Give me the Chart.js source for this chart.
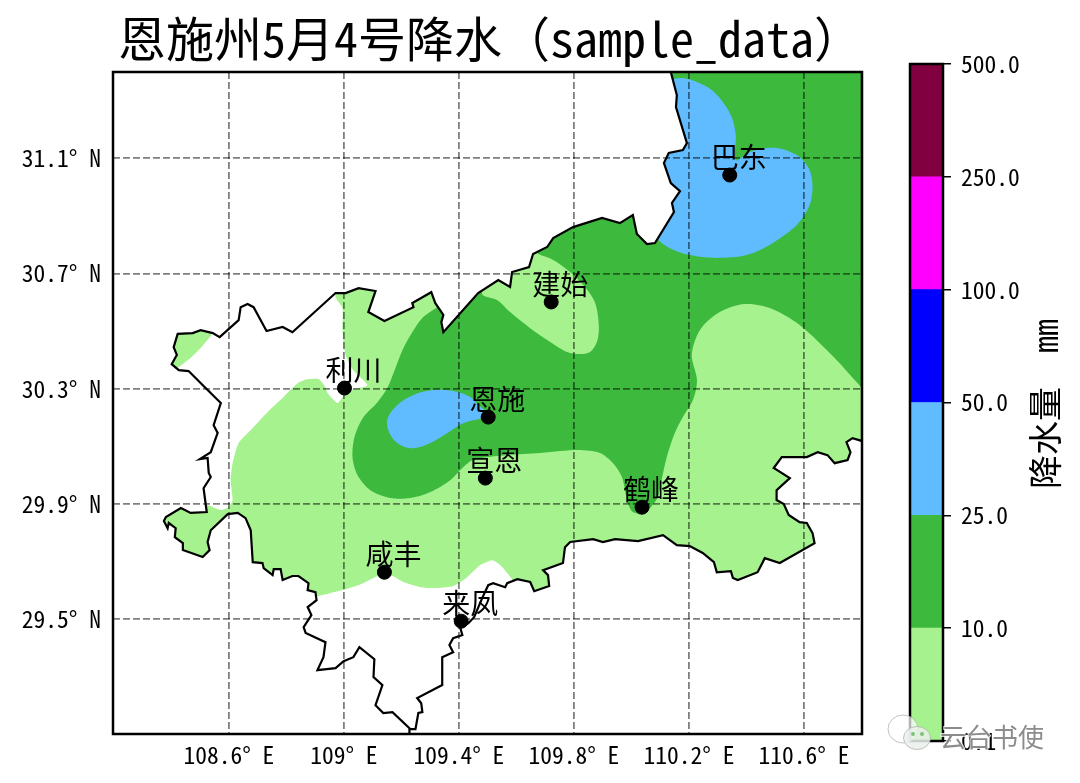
<!DOCTYPE html>
<html>
<head>
<meta charset="utf-8">
<script src="https://cdn.jsdelivr.net/npm/chart.js@4"></script>
<style>
  body { margin: 0; background: #fff; }
  canvas { position: absolute; left: 0; top: 0; }
</style>
</head>
<body>
<canvas id="mapChart" width="1080" height="783"></canvas>
<canvas id="barChart" width="1080" height="783"></canvas>
<script>
var titleText = "恩施州5月4号降水（sample_data）";
var xTickValues = [108.6, 109, 109.4, 109.8, 110.2, 110.6];
var xTickLabels = ["108.6° E", "109° E", "109.4° E", "109.8° E", "110.2° E", "110.6° E"];
var yTickValues = [29.5, 29.9, 30.3, 30.7, 31.1];
var yTickLabels = ["29.5° N", "29.9° N", "30.3° N", "30.7° N", "31.1° N"];

var stationNames = ["巴东", "建始", "利川", "恩施", "宣恩", "鹤峰", "咸丰", "来凤"];
var stationLon = [110.342, 109.721, 109.002, 109.502, 109.492, 110.037, 109.141, 109.408];
var stationLat = [31.042, 30.601, 30.302, 30.201, 29.989, 29.888, 29.662, 29.492];

// county outline
var borderLon = [110.137,110.158,110.155,110.193,110.179,110.130,110.113,110.137,110.169,110.141,110.148,110.082,110.054,110.019,110.005,109.960,109.898,109.797,109.728,109.707,109.658,109.644,109.585,109.578,109.537,109.467,109.346,109.339,109.346,109.318,109.304,109.238,109.242,109.141,109.085,109.110,109.051,109.006,108.971,108.821,108.787,108.731,108.686,108.665,108.641,108.634,108.568,108.544,108.502,108.474,108.422,108.408,108.419,108.401,108.426,108.460,108.519,108.572,108.547,108.561,108.537,108.499,108.526,108.530,108.537,108.512,108.523,108.467,108.433,108.381,108.374,108.387,108.391,108.415,108.412,108.440,108.440,108.509,108.533,108.526,108.537,108.596,108.631,108.658,108.676,108.683,108.717,108.721,108.752,108.756,108.780,108.787,108.821,108.842,108.877,108.874,108.901,108.905,108.874,108.887,108.860,108.867,108.936,108.929,108.908,108.971,108.999,109.033,109.054,109.106,109.103,109.134,109.110,109.137,109.169,109.228,109.228,109.228,109.249,109.259,109.273,109.269,109.255,109.342,109.342,109.380,109.367,109.380,109.412,109.405,109.433,109.453,109.481,109.502,109.519,109.561,109.568,109.603,109.648,109.662,109.714,109.710,109.693,109.762,109.769,109.787,109.867,109.901,109.943,110.023,110.110,110.158,110.203,110.248,110.287,110.297,110.346,110.353,110.370,110.439,110.464,110.516,110.637,110.630,110.610,110.585,110.547,110.530,110.505,110.505,110.551,110.495,110.523,110.610,110.648,110.682,110.707,110.752,110.762,110.748,110.769,110.802,110.802,110.137];
var borderLat = [31.400,31.320,31.278,31.153,31.129,31.119,31.084,31.014,30.986,30.945,30.913,30.806,30.802,30.837,30.903,30.875,30.893,30.861,30.823,30.792,30.768,30.722,30.705,30.653,30.677,30.632,30.496,30.531,30.556,30.597,30.635,30.597,30.583,30.535,30.566,30.639,30.649,30.632,30.632,30.496,30.514,30.500,30.583,30.594,30.583,30.538,30.479,30.493,30.503,30.493,30.490,30.444,30.417,30.385,30.364,30.361,30.302,30.250,30.173,30.146,30.079,30.055,30.059,30.007,29.993,29.954,29.871,29.868,29.885,29.854,29.840,29.815,29.833,29.815,29.784,29.763,29.739,29.715,29.739,29.767,29.808,29.864,29.868,29.850,29.808,29.697,29.694,29.676,29.652,29.673,29.673,29.635,29.649,29.649,29.624,29.600,29.593,29.565,29.541,29.513,29.471,29.451,29.419,29.367,29.322,29.329,29.353,29.367,29.402,29.360,29.298,29.270,29.200,29.173,29.176,29.120,29.103,29.117,29.117,29.173,29.176,29.207,29.225,29.270,29.367,29.384,29.409,29.433,29.444,29.468,29.485,29.506,29.572,29.617,29.624,29.610,29.624,29.638,29.628,29.596,29.614,29.652,29.669,29.694,29.749,29.767,29.777,29.767,29.777,29.770,29.791,29.756,29.753,29.729,29.697,29.662,29.666,29.642,29.635,29.662,29.711,29.694,29.763,29.798,29.833,29.836,29.861,29.899,29.913,29.947,29.989,30.024,30.062,30.062,30.079,30.069,30.041,30.052,30.079,30.114,30.128,30.118,31.400,31.400];

// 0.1-10 mm band, main piece
var lightLon = [109.585,109.544,109.516,109.474,109.429,109.380,109.325,109.266,109.207,109.169,109.127,109.068,109.006,108.908,108.815,108.294,108.294,108.526,108.572,108.599,108.613,108.606,108.613,108.634,108.676,108.735,108.790,108.839,108.877,108.912,108.936,108.943,108.978,109.002,109.033,109.082,109.033,109.006,108.995,108.995,108.971,108.971,110.932,110.932,109.585];
var lightLat = [29.638,29.687,29.704,29.687,29.645,29.614,29.607,29.610,29.628,29.649,29.652,29.624,29.603,29.579,29.565,29.565,29.895,29.895,29.878,29.888,29.913,29.982,30.041,30.111,30.156,30.219,30.271,30.319,30.333,30.333,30.305,30.285,30.250,30.278,30.298,30.312,30.364,30.417,30.503,30.580,30.618,30.781,31.440,29.391,29.391];
// 0.1-10 mm band, north-west corner
var cornerLon = [108.540,108.502,108.467,108.426,108.363,108.328,108.502];
var cornerLat = [30.486,30.441,30.406,30.375,30.347,30.503,30.538];
// 0.1-10 mm band around Jianshi
var jianshiLon = [109.676,109.728,109.787,109.839,109.874,109.887,109.880,109.856,109.821,109.776,109.707,109.648,109.578,109.533,109.481,109.509,109.648];
var jianshiLat = [30.768,30.747,30.705,30.653,30.597,30.514,30.462,30.427,30.420,30.427,30.469,30.510,30.566,30.608,30.629,30.712,30.816];
// 10-25 mm band
var midLon = [109.325,109.276,109.242,109.207,109.179,109.151,109.117,109.068,109.037,109.030,109.047,109.092,109.162,109.231,109.301,109.370,109.412,109.450,109.568,109.683,109.752,109.832,109.891,109.936,109.967,109.985,110.002,110.037,110.065,110.092,110.110,110.127,110.151,110.179,110.214,110.228,110.210,110.238,110.307,110.394,110.481,110.585,110.707,110.802,110.932,110.932,110.030,109.440,109.370];
var midLat = [30.583,30.549,30.503,30.441,30.371,30.302,30.253,30.201,30.132,30.062,30.000,29.947,29.920,29.920,29.941,29.982,30.024,30.052,30.069,30.076,30.083,30.086,30.076,30.041,29.993,29.913,29.874,29.864,29.885,29.923,30.007,30.076,30.146,30.201,30.260,30.330,30.417,30.503,30.566,30.594,30.580,30.521,30.406,30.302,30.173,31.511,31.511,30.955,30.608];
// 25-50 mm band around Enshi
var enshiLon = [109.499,109.467,109.440,109.380,109.311,109.242,109.186,109.151,109.162,109.196,109.242,109.301,109.360,109.415,109.485];
var enshiLat = [30.219,30.243,30.271,30.292,30.295,30.278,30.243,30.191,30.139,30.104,30.093,30.111,30.146,30.180,30.198];
// 25-50 mm band around Badong
var badongLon = [110.144,110.179,110.228,110.280,110.318,110.349,110.363,110.363,110.412,110.471,110.526,110.585,110.620,110.630,110.620,110.575,110.492,110.401,110.297,110.203,110.134,110.089,110.030,110.030,110.065];
var badongLat = [31.376,31.379,31.365,31.337,31.296,31.244,31.181,31.094,31.122,31.136,31.132,31.105,31.059,31.000,30.938,30.868,30.806,30.764,30.754,30.764,30.788,30.823,30.955,31.303,31.372];

var barLabels = ["0.1", "10.0", "25.0", "50.0", "100.0", "250.0", "500.0"];
var barColors = ["#A6F28F", "#3DBA3D", "#61BBFF", "#0000FF", "#FF00FF", "#800040"];
var barTitle = "降水量  mm";
var watermark = "云台书使";

var monoFont = '"Noto Sans Mono CJK SC", "Liberation Mono", "Noto Sans CJK SC"';
var cjkFont = '"Noto Sans CJK SC"';

function toPoints(lon, lat) {
  return lon.map(function (v, i) { return { x: v, y: lat[i] }; });
}

function area(lon, lat, color, tension) {
  return {
    data: toPoints(lon, lat),
    showLine: true,
    fill: "shape",
    backgroundColor: color,
    borderWidth: 0,
    pointRadius: 0,
    tension: tension
  };
}

// contours only show inside the county outline, like the clip path in the original
var outlineClip = {
  id: "outlineClip",
  beforeDatasetsDraw: function (chart) {
    var ctx = chart.ctx;
    ctx.save();
    ctx.beginPath();
    borderLon.forEach(function (v, i) {
      var px = chart.scales.x.getPixelForValue(v);
      var py = chart.scales.y.getPixelForValue(borderLat[i]);
      if (i === 0) ctx.moveTo(px, py); else ctx.lineTo(px, py);
    });
    ctx.closePath();
    ctx.clip();
  },
  afterDatasetDraw: function (chart, args) {
    if (args.index === 2) chart.ctx.restore();
  }
};

var mapDecor = {
  id: "mapDecor",
  afterDraw: function (chart) {
    var ctx = chart.ctx, a = chart.chartArea;
    ctx.save();
    ctx.strokeStyle = "#000";
    ctx.lineWidth = 2.5;
    ctx.strokeRect(a.left, a.top, a.right - a.left, a.bottom - a.top);

    ctx.fillStyle = "#000";
    ctx.textAlign = "left";
    ctx.textBaseline = "alphabetic";
    ctx.font = "48px " + monoFont;
    ctx.fillText(titleText, 118, 57);

    ctx.font = "28px " + cjkFont;
    ctx.textAlign = "center";
    ctx.textBaseline = "middle";
    stationNames.forEach(function (name, i) {
      var px = chart.scales.x.getPixelForValue(stationLon[i]);
      var py = chart.scales.y.getPixelForValue(stationLat[i]);
      ctx.fillText(name, px + 9, py - 18);
    });
    ctx.restore();
  }
};

new Chart(document.getElementById("mapChart"), {
  type: "scatter",
  data: {
    datasets: [
      { data: toPoints(stationLon, stationLat), backgroundColor: "#000", borderColor: "#000", pointRadius: 7, showLine: false },
      { data: toPoints(borderLon, borderLat), showLine: true, fill: false, borderColor: "#000", borderWidth: 2.2, pointRadius: 0, tension: 0 },
      area(badongLon, badongLat, "#61BBFF", 0.3),
      area(enshiLon, enshiLat, "#61BBFF", 0.35),
      area(jianshiLon, jianshiLat, "#A6F28F", 0.3),
      area(midLon, midLat, "#3DBA3D", 0.3),
      area(cornerLon, cornerLat, "#A6F28F", 0),
      area(lightLon, lightLat, "#A6F28F", 0.2)
    ]
  },
  options: {
    responsive: false,
    animation: false,
    layout: { padding: { top: 72, right: 218 } },
    plugins: { legend: { display: false }, tooltip: { enabled: false } },
    scales: {
      x: {
        min: 108.197,
        max: 110.802,
        afterFit: function (s) { s.height = 49; },
        afterBuildTicks: function (s) { s.ticks = xTickValues.map(function (v) { return { value: v }; }); },
        grid: { color: "rgba(0,0,0,0.5)", lineWidth: 1.8, drawTicks: false, z: 1 },
        border: { dash: [7, 3], display: false },
        ticks: {
          autoSkip: false, maxRotation: 0, padding: 7, color: "#000",
          font: { family: monoFont, size: 23.5 },
          callback: function (v, i) { return xTickLabels[i]; }
        }
      },
      y: {
        min: 29.1,
        max: 31.4,
        afterFit: function (s) { s.width = 113; },
        afterBuildTicks: function (s) { s.ticks = yTickValues.map(function (v) { return { value: v }; }); },
        grid: { color: "rgba(0,0,0,0.5)", lineWidth: 1.8, drawTicks: false, z: 1 },
        border: { dash: [7, 3], display: false },
        ticks: {
          autoSkip: false, padding: 12, color: "#000",
          font: { family: monoFont, size: 23.5 },
          callback: function (v, i) { return yTickLabels[i]; }
        }
      }
    }
  },
  plugins: [outlineClip, mapDecor]
});

var barDecor = {
  id: "barDecor",
  afterDraw: function (chart) {
    var ctx = chart.ctx, a = chart.chartArea;
    ctx.save();
    ctx.strokeStyle = "#000";
    ctx.lineWidth = 2.5;
    ctx.strokeRect(a.left, a.top, a.right - a.left, a.bottom - a.top);

    ctx.translate(1045, 404);
    ctx.rotate(-Math.PI / 2);
    ctx.fillStyle = "#000";
    ctx.font = "34px " + monoFont;
    ctx.textAlign = "center";
    ctx.textBaseline = "middle";
    ctx.fillText(barTitle, 0, 0);
    ctx.restore();

    // watermark over the bottom of the bar
    ctx.save();
    ctx.lineWidth = 1;
    ctx.strokeStyle = "rgba(170,170,170,0.7)";
    ctx.fillStyle = "rgba(255,255,255,0.7)";
    ctx.beginPath(); ctx.ellipse(903, 729, 15, 14, 0, 0, Math.PI * 2); ctx.fill(); ctx.stroke();
    ctx.fillStyle = "rgba(235,240,235,0.85)";
    ctx.beginPath(); ctx.ellipse(917, 738, 13.5, 11.5, 0, 0, Math.PI * 2); ctx.fill(); ctx.stroke();
    ctx.fillStyle = "rgba(110,190,110,0.9)";
    ctx.beginPath(); ctx.arc(913, 734, 2, 0, Math.PI * 2); ctx.fill();
    ctx.beginPath(); ctx.arc(922, 734, 2, 0, Math.PI * 2); ctx.fill();
    ctx.font = "26px " + cjkFont;
    ctx.textAlign = "left";
    ctx.textBaseline = "middle";
    ctx.lineWidth = 2;
    ctx.strokeStyle = "rgba(255,255,255,0.8)";
    ctx.strokeText(watermark, 940, 737);
    ctx.fillStyle = "rgba(120,120,120,0.85)";
    ctx.fillText(watermark, 940, 737);
    ctx.restore();
  }
};

new Chart(document.getElementById("barChart"), {
  type: "bar",
  data: {
    labels: [""],
    datasets: barColors.map(function (c) {
      return { data: [1], backgroundColor: c, barPercentage: 1, categoryPercentage: 1, borderWidth: 0 };
    })
  },
  options: {
    responsive: false,
    animation: false,
    layout: { padding: { left: 910, top: 64, bottom: 42 } },
    plugins: { legend: { display: false }, tooltip: { enabled: false } },
    scales: {
      x: { stacked: true, display: false },
      y: {
        stacked: true,
        position: "right",
        min: 0,
        max: 6,
        afterFit: function (s) { s.width = 137; },
        afterBuildTicks: function (s) { s.ticks = barLabels.map(function (l, i) { return { value: i }; }); },
        grid: { drawOnChartArea: false, color: "#000", lineWidth: 1.5, tickLength: 8 },
        border: { display: false },
        ticks: {
          autoSkip: false, padding: 10, color: "#000",
          font: { family: monoFont, size: 23.5 },
          callback: function (v) { return barLabels[v]; }
        }
      }
    }
  },
  plugins: [barDecor]
});
</script>
</body>
</html>
